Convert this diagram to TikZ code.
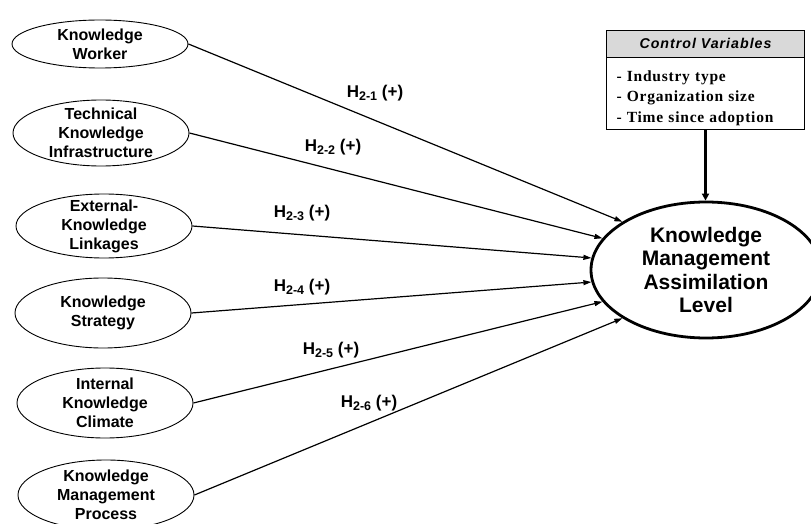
\documentclass[tikz,border=0pt]{standalone}
\usepackage{fontspec}
\setmainfont{Liberation Sans}
\newfontfamily\itemserif[LetterSpace=5]{Liberation Serif}
\newfontfamily\headsans[LetterSpace=7]{Liberation Sans}
\usepackage{tikz}
\usetikzlibrary{arrows.meta,positioning,shapes.geometric}

\newcommand{\hlab}[1]{H\raisebox{-3pt}{\fontsize{12.5}{13}\selectfont #1}\ (+)}

\begin{document}
\begin{tikzpicture}[
  x=1pt, y=-1pt,
  factor/.style={draw, ellipse, line width=0.9pt, align=center, inner xsep=0pt, inner ysep=-5pt,
    minimum width=176pt, minimum height=68pt, font=\bfseries\fontsize{16}{19}\selectfont},
  target/.style={draw, ellipse, line width=2.8pt, align=center, inner sep=0pt,
    minimum width=230pt, minimum height=136pt, font=\bfseries\fontsize{21}{23.5}\selectfont},
  cvhead/.style={draw, line width=0.9pt, fill=black!15, minimum width=198pt, minimum height=27pt,
    inner sep=0pt, font=\headsans\bfseries\itshape\fontsize{14.2}{16}\selectfont},
  cvbody/.style={draw, line width=0.9pt, text width=178pt, inner xsep=10pt, inner ysep=0pt,
    minimum height=72pt, align=left, font=\itemserif\bfseries\fontsize{15.5}{20.5}\selectfont},
  hyp/.style={font=\bfseries\fontsize{17}{19}\selectfont, inner sep=1pt},
  arr/.style={-{Triangle[length=8pt,width=5pt]}, line width=1.2pt},
  ctrl/.style={-{Triangle[length=7pt,width=7pt]}, line width=2.6pt}
]
\useasboundingbox (0,0) rectangle (811,524);
\clip (0,0) rectangle (811,524);

% antecedents
\node[factor, minimum height=48pt] (KW) at (100,44) {Knowledge\\Worker};
\node[factor, minimum height=66pt] (TKI) at (101,133) {Technical\\Knowledge\\Infrastructure};
\node[factor, minimum height=64pt] (EKL) at (104,226) {External-\\Knowledge\\Linkages};
\node[factor, minimum height=70pt] (KS) at (103,313) {Knowledge\\Strategy};
\node[factor, minimum height=70pt] (IKC) at (105,403) {Internal\\Knowledge\\Climate};
\node[factor, minimum height=70pt] (KMP) at (106,495) {Knowledge\\Management\\Process};

% outcome
\node[target] (KMA) at (706,270) {Knowledge\\Management\\Assimilation\\Level};

% controls
\node[cvhead] (CVh) at (705.5,43.5) {Control Variables};
\node[cvbody, below=0pt of CVh] (CVb) {\rule{0pt}{19pt}- Industry type\\- Organization size\\- Time since adoption};

% hypotheses
\node[hyp] (H1) at (375,93) {\hlab{2-1}};
\node[hyp] (H2) at (333,147) {\hlab{2-2}};
\node[hyp] (H3) at (302,213) {\hlab{2-3}};
\node[hyp] (H4) at (302,287) {\hlab{2-4}};
\node[hyp] (H5) at (331,350) {\hlab{2-5}};
\node[hyp] (H6) at (369,403) {\hlab{2-6}};

\draw[arr] (KW.east) -- (KMA.150);
\draw[arr] (TKI.east) -- (KMA.163);
\draw[arr] (EKL.east) -- (KMA.174);
\draw[arr] (KS.east) -- (KMA.186);
\draw[arr] (IKC.east) -- (KMA.197);
\draw[arr] (KMP.east) -- (KMA.210);
\draw[ctrl] (CVb.south) -- (CVb.south |- KMA.north);
\end{tikzpicture}
\end{document}
